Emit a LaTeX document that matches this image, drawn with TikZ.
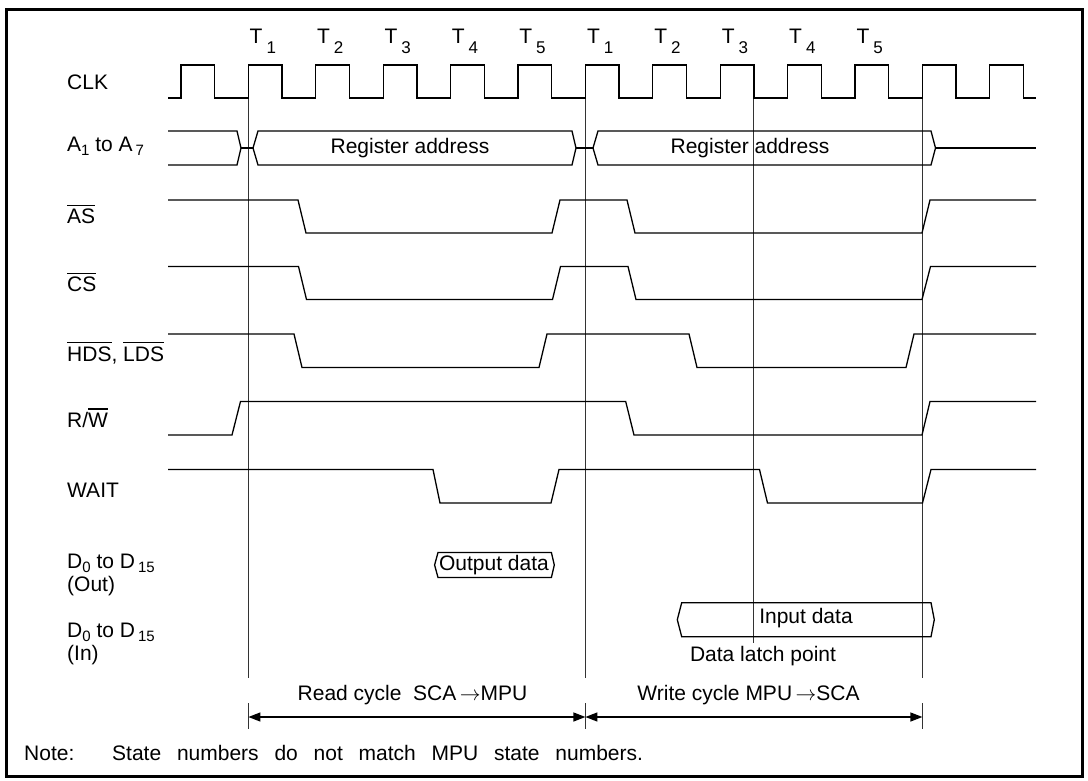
\documentclass[tikz,border=0pt]{standalone}
\usepackage{fontspec}
\setmainfont{Liberation Sans}
\usetikzlibrary{arrows.meta}
\newcommand\lsub[1]{\raisebox{-4pt}{\fontsize{15}{15}\selectfont #1}}
\newcommand\tsub[1]{\hspace{4pt}\raisebox{-10pt}{\fontsize{17}{17}\selectfont #1}}
\newcommand\ovl[1]{\leavevmode\vbox{\hrule height 1.1pt\kern 3pt\hbox{#1}}}
\begin{document}
\begin{tikzpicture}[x=1pt,y=-1pt,
  sig/.style={line width=1.3pt, line join=miter},
  guide/.style={line width=1pt, black!80},
  lbl/.style={anchor=base west, inner sep=0pt},
  txt/.style={inner sep=0pt},
  dimarrow/.style={line width=1.3pt, {Triangle[length=12pt,width=9pt]}-{Triangle[length=12pt,width=9pt]}},
  font=\fontsize{21}{25}\selectfont]
\useasboundingbox (0,0) rectangle (1088,781);
\draw[line width=3pt] (6,10) rectangle (1082,776);

% state labels
\foreach \k in {1,...,5}{
  \node[lbl] (ta\k) at ({249.5+67.4*(\k-1)},44) {T\tsub{\k}};
  \node[lbl] (tb\k) at ({586.8+67.4*(\k-1)},44) {T\tsub{\k}};
}

% signal names
\node[lbl] (lclk) at (67,89.5) {CLK};
\node[lbl] (laddr) at (67,152) {A\lsub{1} to A\hspace{3pt}\lsub{7}};
\node[lbl] (las) at (67,223.5) {\ovl{AS}};
\node[lbl] (lcs) at (67,291.5) {\ovl{CS}};
\node[lbl] (lds) at (67,361) {\ovl{HDS}, \ovl{LDS}};
\node[lbl] (lrw) at (67,427) {R/\ovl{W}};
\node[lbl] (lwait) at (67,497) {WAIT};
\node[lbl] (ldo1) at (67,568) {D\lsub{0} to D\hspace{3pt}\lsub{15}};
\node[lbl] (ldo2) at (67,591) {(Out)};
\node[lbl] (ldi1) at (67,637) {D\lsub{0} to D\hspace{3pt}\lsub{15}};
\node[lbl] (ldi2) at (67,660.5) {(In)};

% guide lines
\draw[guide] (248.4,98) -- (248.4,678);
\draw[guide] (585.4,98) -- (585.4,678);
\draw[guide] (922.4,98) -- (922.4,678);
\draw[guide] (753.9,98) -- (753.9,643);
\draw[guide] (248.4,703) -- (248.4,729);
\draw[guide] (585.4,703) -- (585.4,729);
\draw[guide] (922.4,703) -- (922.4,729);

% CLK
\draw[sig] (168,98) \foreach \k in {0,...,12}{
  -- ({181+67.4*\k},98) -- ({181+67.4*\k},65) -- ({214.7+67.4*\k},65) -- ({214.7+67.4*\k},98)}
  -- (1036,98);

% address bus
\draw[sig] (168,131) -- (237,131) -- (241,148) -- (237,165) -- (168,165);
\draw[sig] (241,148) -- (253,148);
\draw[sig] (253,148) -- (258,131) -- (572,131) -- (576,148) -- (572,165) -- (258,165) -- cycle;
\draw[sig] (576,148) -- (593,148);
\draw[sig] (593,148) -- (598,131) -- (931,131) -- (935.5,148) -- (931,165) -- (598,165) -- cycle;
\draw[sig] (935.5,148) -- (1036,148);
\node[txt] (ra1) at (410,148) {Register address};
\node[txt] (ra2) at (750,148) {Register address};

% AS
\draw[sig] (168,200) -- (298,200) -- (306,233) -- (552,233) -- (560,200) -- (627,200)
  -- (635,233) -- (922,233) -- (930,200) -- (1036,200);
% CS
\draw[sig] (168,266.5) -- (298.5,266.5) -- (306.5,299.5) -- (552.5,299.5) -- (560.5,266.5) -- (628,266.5)
  -- (636,299.5) -- (922,299.5) -- (930.5,266.5) -- (1036,266.5);
% HDS LDS
\draw[sig] (168,334) -- (294,334) -- (302,367.5) -- (539,367.5) -- (547,334) -- (689,334)
  -- (697,367.5) -- (906,367.5) -- (914,334) -- (1036,334);
% R/W
\draw[sig] (168,435) -- (232,435) -- (240.5,401.5) -- (625.7,401.5) -- (634,435) -- (922,435)
  -- (930,401.5) -- (1036,401.5);
% WAIT
\draw[sig] (168,469.5) -- (433,469.5) -- (440,503) -- (551,503) -- (559,469.5) -- (759.5,469.5)
  -- (767.5,503) -- (922.5,503) -- (931,469.5) -- (1036,469.5);

% data out
\draw[sig] (434.6,565) -- (438,552.5) -- (551.4,552.5) -- (554.3,565) -- (551.4,577.5) -- (438,577.5) -- cycle;
\node[txt] (od) at (494,565) {Output data};
% data in
\draw[sig] (677.3,619.7) -- (681.7,602.7) -- (931,602.7) -- (934.3,619.7) -- (931,636.7) -- (681.7,636.7) -- cycle;
\node[txt] (id) at (806,618.5) {Input data};
\node[txt] (dlp) at (763,656) {Data latch point};

% cycles
\coordinate (c1) at (248.4,717);
\coordinate (c2) at (585.4,717);
\coordinate (c3) at (922.4,717);
\draw[dimarrow] (c1) -- (c2);
\draw[dimarrow] (c2) -- (c3);
\node[txt] (rc) at (412.5,695) {Read cycle\ \ SCA\,$\rightarrow$MPU};
\node[txt] (wc) at (748.5,695) {Write cycle MPU\,$\rightarrow$SCA};

% note
\node[lbl] (note) at (24,760.5) {Note:};
\node[lbl] (notet) at (112,760.5) {\spaceskip=15.8pt\relax State numbers do not match MPU state numbers.};
\end{tikzpicture}
\end{document}
